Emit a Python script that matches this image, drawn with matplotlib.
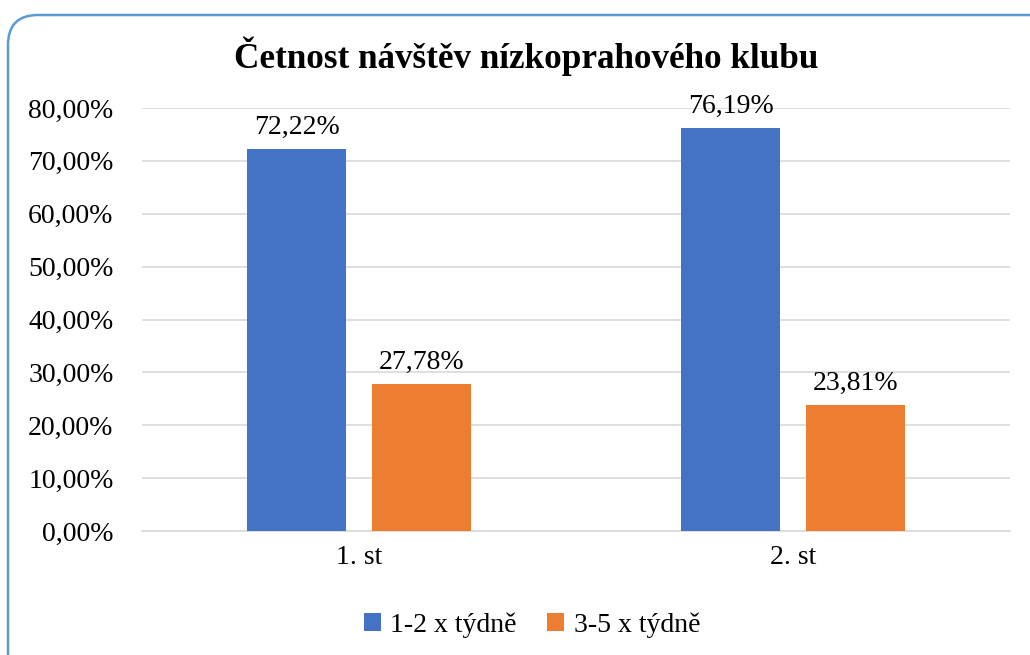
import numpy as np
import matplotlib.pyplot as plt
from matplotlib.patches import FancyBboxPatch
from matplotlib.ticker import FuncFormatter

categories = ['1. st', '2. st']
series_names = ['1-2 x týdně', '3-5 x týdně']
vals_12 = [72.22, 76.19]
vals_35 = [27.78, 23.81]
colors = ['#4472C4', '#ED7D31']

plt.rcParams['font.family'] = ['Liberation Serif', 'DejaVu Serif']

fig = plt.figure(figsize=(10.3, 6.55), dpi=100)

# background axes in pixel units for the rounded frame
bg = fig.add_axes([0, 0, 1, 1], zorder=-1)
bg.set_xlim(0, 1030)
bg.set_ylim(655, 0)
bg.axis('off')
bg.add_patch(FancyBboxPatch((8, 15), 1100, 700, boxstyle='round,pad=0,rounding_size=30',
                            fc='white', ec='#5B9BD5', lw=1.8))

ax = fig.add_axes([142/1030, 1-531/655, 868/1030, 423/655])
x = np.arange(len(categories))
w = 0.226
off = 0.144
b1 = ax.bar(x - off, vals_12, w, color=colors[0], label=series_names[0], zorder=3)
b2 = ax.bar(x + off, vals_35, w, color=colors[1], label=series_names[1], zorder=3)
for bars, vals in ((b1, vals_12), (b2, vals_35)):
    for r, v in zip(bars, vals):
        ax.text(r.get_x() + r.get_width()/2, v + 1.8, f'{v:.2f}%'.replace('.', ','),
                ha='center', va='bottom', fontsize=20)

ax.set_xlim(-0.5, 1.5)
ax.set_ylim(0, 80)
ax.set_yticks(np.arange(0, 81, 10))
ax.yaxis.set_major_formatter(FuncFormatter(lambda v, p: f'{v:.2f}%'.replace('.', ',')))
ax.set_xticks(x)
ax.set_xticklabels(categories)
ax.tick_params(axis='both', length=0, labelsize=20)
ax.tick_params(axis='x', pad=10)
ax.tick_params(axis='y', pad=20.5)
ax.grid(axis='y', color='#D9D9D9', lw=1.2, zorder=0)
for s in ['top', 'right', 'left']:
    ax.spines[s].set_visible(False)
ax.spines['bottom'].set_color('#D9D9D9')
ax.spines['bottom'].set_linewidth(1.2)
ax.set_facecolor('none')

fig.text(526/1030, 1-56/655, 'Četnost návštěv nízkoprahového klubu', ha='center', va='center',
         fontsize=25.3, fontweight='bold')
fig.legend(loc='center', bbox_to_anchor=(532/1030, 1-625/655), ncol=2, frameon=False,
           fontsize=20, handlelength=0.6, handleheight=0.6, handletextpad=0.35, columnspacing=1.1)

fig.savefig('out.png', dpi=100)
